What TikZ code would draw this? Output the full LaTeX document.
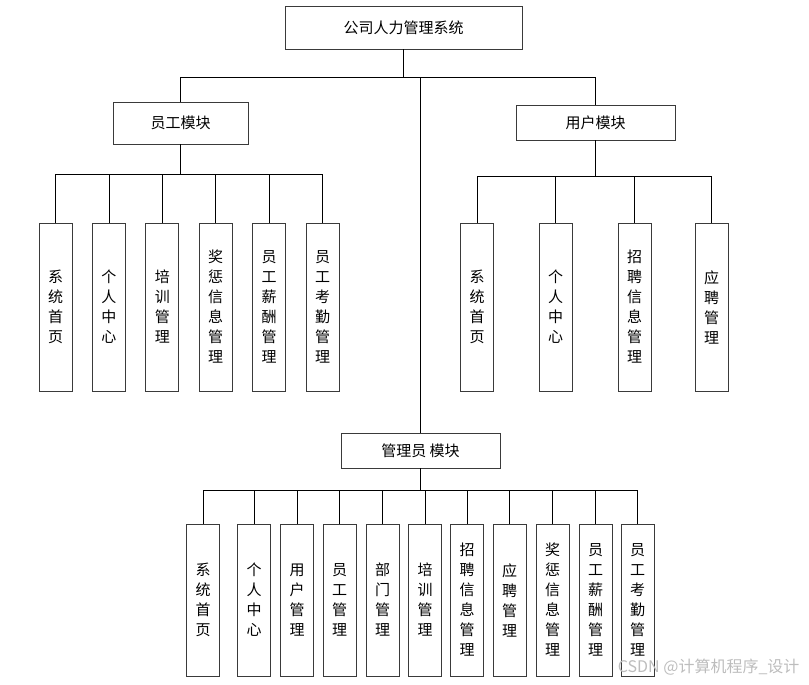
\documentclass[tikz,border=0pt]{standalone}
\usepackage{fontspec}
\usepackage{tikz}
\usetikzlibrary{positioning}
\setmainfont{Noto Sans CJK SC}
\definecolor{edge}{HTML}{3A3A3A}
\definecolor{mark}{HTML}{BDBDBD}

\begin{document}
\begin{tikzpicture}[x=1pt, y=-1pt,
        every node/.style={font=\fontsize{15}{20}\selectfont},
        modbox/.style={draw=edge, line width=0.9pt, inner sep=0pt},
        leafbox/.style={draw=edge, line width=0.9pt, inner sep=0pt,
          minimum width=33pt, align=center},
        link/.style={draw=black, line width=0.8pt}]
      \useasboundingbox (0,0) rectangle (809,685);

      % top and modules
      \node[modbox, minimum width=237pt, minimum height=43pt] (sys) at (403.5,27.5) {公司人力管理系统};
      \node[modbox, minimum width=135pt, minimum height=42pt] (emp) at (180.5,123) {员工模块};
      \node[modbox, minimum width=159pt, minimum height=35pt] (usr) at (595.5,122.5) {用户模块};
      \node[modbox, minimum width=159pt, minimum height=35pt] (adm) at (420.5,450.5) {管理员 模块};

      \foreach \m in {emp, usr, adm}
        \draw[link] (sys.south) -- ++(0,28) -| (\m.north);

      % employee module
      \foreach \t [count=\i] in {系\\统\\首\\页, 个\\人\\中\\心, 培\\训\\管\\理,
          奖\\惩\\信\\息\\管\\理, 员\\工\\薪\\酬\\管\\理, 员\\工\\考\\勤\\管\\理} {
        \node[leafbox, minimum height=168pt] (emp\i) at ({55.5+53.4*(\i-1)},307) {\t};
        \draw[link] (emp.south) -- ++(0,30) -| (emp\i.north);
      }

      % user module
      \foreach \t/\x [count=\i] in {系\\统\\首\\页/477, 个\\人\\中\\心/555.5,
          招\\聘\\信\\息\\管\\理/634.5, 应\\聘\\管\\理/711.5} {
        \node[leafbox, minimum height=168pt] (usr\i) at (\x,307) {\t};
        \draw[link] (usr.south) -- ++(0,36) -| (usr\i.north);
      }

      % admin module
      \foreach \t/\x [count=\i] in {系\\统\\首\\页/203, 个\\人\\中\\心/254,
          用\\户\\管\\理/297, 员\\工\\管\\理/339.5, 部\\门\\管\\理/382.5,
          培\\训\\管\\理/425, 招\\聘\\信\\息\\管\\理/467, 应\\聘\\管\\理/509.5,
          奖\\惩\\信\\息\\管\\理/552.5, 员\\工\\薪\\酬\\管\\理/595.5,
          员\\工\\考\\勤\\管\\理/637.5} {
        \node[leafbox, minimum height=152pt] (adm\i) at (\x,600) {\t};
        \draw[link] (adm.south) -- ++(0,22) -| (adm\i.north);
      }

      \node[text=mark, anchor=east, font=\fontsize{16}{18}\selectfont] (wm) at (803,667) {CSDN @计算机程序\_设计};
    \end{tikzpicture}
\end{document}
